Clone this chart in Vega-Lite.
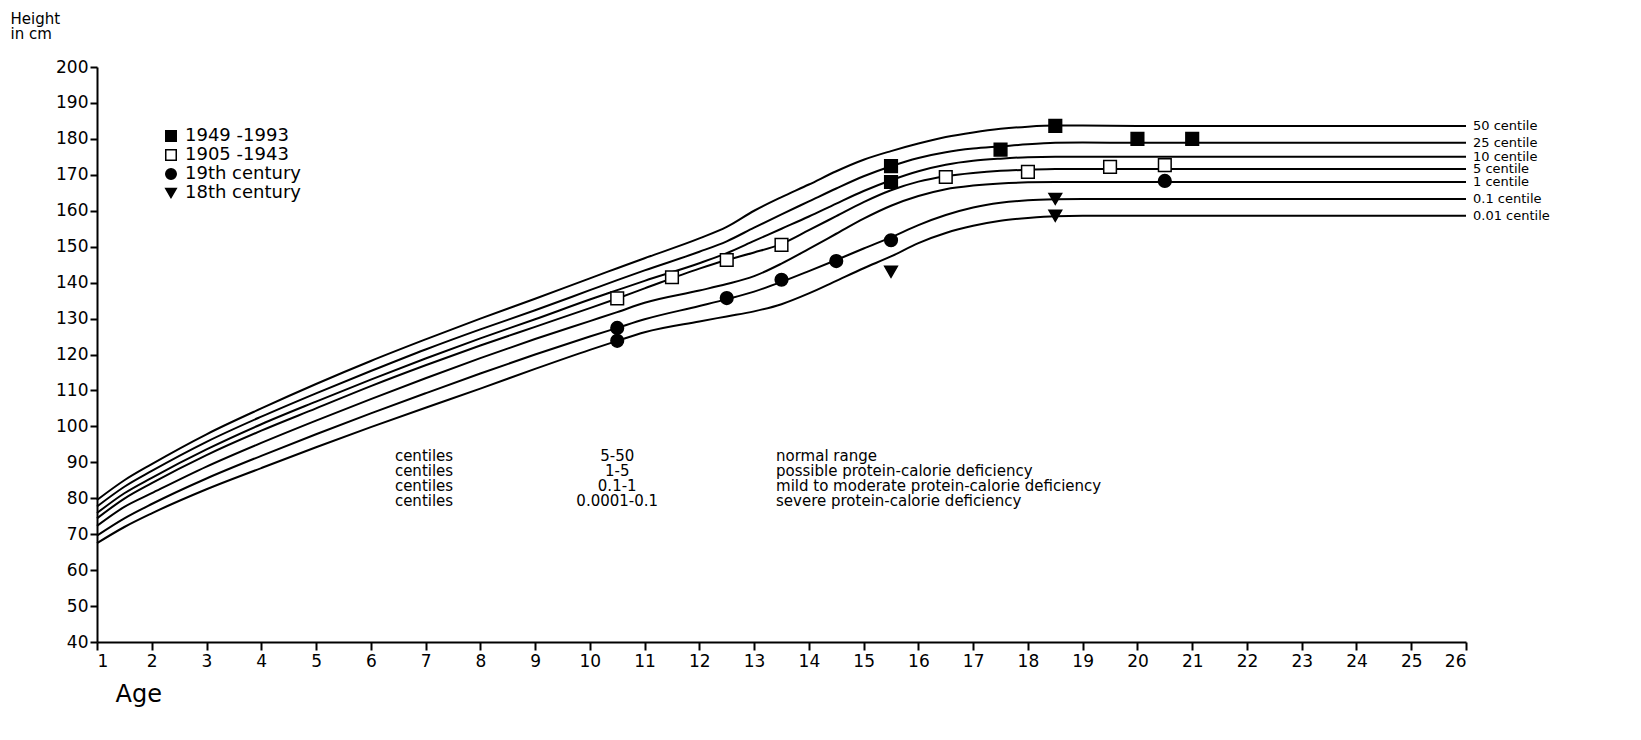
{
  "$schema": "https://vega.github.io/schema/vega-lite/v6.json",
  "width": 1369,
  "height": 575,
  "autosize": {"type": "none"},
  "padding": {"left": 97, "top": 67, "right": 175, "bottom": 98},
  "background": "white",
  "config": {
    "view": {"stroke": null},
    "font": "DejaVu Sans",
    "axis": {
      "domainColor": "black",
      "domainWidth": 2,
      "tickColor": "black",
      "tickWidth": 2,
      "tickSize": 8,
      "labelColor": "black",
      "labelFontSize": 17,
      "labelFont": "DejaVu Sans",
      "labelOverlap": false,
      "grid": false,
      "titleColor": "black",
      "titleFont": "DejaVu Sans",
      "titleFontWeight": "normal"
    },
    "legend": {
      "padding": 0,
      "labelFontSize": 18,
      "labelColor": "black",
      "labelFont": "DejaVu Sans",
      "symbolSize": 110,
      "rowPadding": 1,
      "labelOffset": 5
    }
  },
  "datasets": {
    "curves": [
      {"c": "50 centile", "a": 1, "h": 79.5}, {"c": "50 centile", "a": 1.5, "h": 85}, {"c": "50 centile", "a": 2, "h": 89.5}, {"c": "50 centile", "a": 3, "h": 97.8}, {"c": "50 centile", "a": 4, "h": 105}, {"c": "50 centile", "a": 5, "h": 111.8}, {"c": "50 centile", "a": 6, "h": 118.2}, {"c": "50 centile", "a": 7, "h": 124.2}, {"c": "50 centile", "a": 8, "h": 130}, {"c": "50 centile", "a": 9, "h": 135.5}, {"c": "50 centile", "a": 10, "h": 141.2}, {"c": "50 centile", "a": 10.5, "h": 144}, {"c": "50 centile", "a": 11, "h": 146.8}, {"c": "50 centile", "a": 12, "h": 152.3}, {"c": "50 centile", "a": 12.5, "h": 155.5}, {"c": "50 centile", "a": 13, "h": 160}, {"c": "50 centile", "a": 13.5, "h": 163.8}, {"c": "50 centile", "a": 14, "h": 167.3}, {"c": "50 centile", "a": 14.5, "h": 171}, {"c": "50 centile", "a": 15, "h": 174.2}, {"c": "50 centile", "a": 15.5, "h": 176.6}, {"c": "50 centile", "a": 16, "h": 178.7}, {"c": "50 centile", "a": 16.5, "h": 180.5}, {"c": "50 centile", "a": 17, "h": 181.8}, {"c": "50 centile", "a": 17.5, "h": 182.8}, {"c": "50 centile", "a": 18, "h": 183.4}, {"c": "50 centile", "a": 18.5, "h": 183.7}, {"c": "50 centile", "a": 19, "h": 183.7}, {"c": "50 centile", "a": 20, "h": 183.6}, {"c": "50 centile", "a": 26, "h": 183.6},
      {"c": "25 centile", "a": 1, "h": 77.7}, {"c": "25 centile", "a": 1.5, "h": 83.2}, {"c": "25 centile", "a": 2, "h": 87.6}, {"c": "25 centile", "a": 3, "h": 95.7}, {"c": "25 centile", "a": 4, "h": 102.7}, {"c": "25 centile", "a": 5, "h": 109.2}, {"c": "25 centile", "a": 6, "h": 115.4}, {"c": "25 centile", "a": 7, "h": 121.4}, {"c": "25 centile", "a": 8, "h": 127}, {"c": "25 centile", "a": 9, "h": 132.3}, {"c": "25 centile", "a": 10, "h": 137.9}, {"c": "25 centile", "a": 10.5, "h": 140.7}, {"c": "25 centile", "a": 11, "h": 143.4}, {"c": "25 centile", "a": 12, "h": 148.6}, {"c": "25 centile", "a": 12.5, "h": 151.5}, {"c": "25 centile", "a": 13, "h": 155.3}, {"c": "25 centile", "a": 13.5, "h": 159}, {"c": "25 centile", "a": 14, "h": 162.6}, {"c": "25 centile", "a": 14.5, "h": 166.2}, {"c": "25 centile", "a": 15, "h": 169.6}, {"c": "25 centile", "a": 15.5, "h": 172.4}, {"c": "25 centile", "a": 16, "h": 174.7}, {"c": "25 centile", "a": 16.5, "h": 176.3}, {"c": "25 centile", "a": 17, "h": 177.3}, {"c": "25 centile", "a": 17.5, "h": 177.9}, {"c": "25 centile", "a": 18, "h": 178.5}, {"c": "25 centile", "a": 18.5, "h": 178.9}, {"c": "25 centile", "a": 19, "h": 179}, {"c": "25 centile", "a": 20, "h": 178.9}, {"c": "25 centile", "a": 26, "h": 178.9},
      {"c": "10 centile", "a": 1, "h": 75.9}, {"c": "10 centile", "a": 1.5, "h": 81.4}, {"c": "10 centile", "a": 2, "h": 85.7}, {"c": "10 centile", "a": 3, "h": 93.6}, {"c": "10 centile", "a": 4, "h": 100.6}, {"c": "10 centile", "a": 5, "h": 106.9}, {"c": "10 centile", "a": 6, "h": 113}, {"c": "10 centile", "a": 7, "h": 118.9}, {"c": "10 centile", "a": 8, "h": 124.5}, {"c": "10 centile", "a": 9, "h": 129.8}, {"c": "10 centile", "a": 10, "h": 135.3}, {"c": "10 centile", "a": 10.5, "h": 137.9}, {"c": "10 centile", "a": 11, "h": 140.5}, {"c": "10 centile", "a": 12, "h": 145.4}, {"c": "10 centile", "a": 12.5, "h": 148.2}, {"c": "10 centile", "a": 13, "h": 151.6}, {"c": "10 centile", "a": 13.5, "h": 155}, {"c": "10 centile", "a": 14, "h": 158.4}, {"c": "10 centile", "a": 14.5, "h": 162}, {"c": "10 centile", "a": 15, "h": 165.5}, {"c": "10 centile", "a": 15.5, "h": 168.5}, {"c": "10 centile", "a": 16, "h": 171}, {"c": "10 centile", "a": 16.5, "h": 172.8}, {"c": "10 centile", "a": 17, "h": 173.9}, {"c": "10 centile", "a": 17.5, "h": 174.5}, {"c": "10 centile", "a": 18, "h": 174.9}, {"c": "10 centile", "a": 18.5, "h": 175}, {"c": "10 centile", "a": 19, "h": 175}, {"c": "10 centile", "a": 20, "h": 175}, {"c": "10 centile", "a": 26, "h": 175},
      {"c": "5 centile", "a": 1, "h": 74.4}, {"c": "5 centile", "a": 1.5, "h": 79.9}, {"c": "5 centile", "a": 2, "h": 84.2}, {"c": "5 centile", "a": 3, "h": 92}, {"c": "5 centile", "a": 4, "h": 98.8}, {"c": "5 centile", "a": 5, "h": 105}, {"c": "5 centile", "a": 6, "h": 111.2}, {"c": "5 centile", "a": 7, "h": 117}, {"c": "5 centile", "a": 8, "h": 122.5}, {"c": "5 centile", "a": 9, "h": 127.7}, {"c": "5 centile", "a": 10, "h": 132.9}, {"c": "5 centile", "a": 10.5, "h": 135.6}, {"c": "5 centile", "a": 11, "h": 138.4}, {"c": "5 centile", "a": 12, "h": 143.9}, {"c": "5 centile", "a": 12.5, "h": 146.3}, {"c": "5 centile", "a": 13, "h": 148.4}, {"c": "5 centile", "a": 13.5, "h": 150.8}, {"c": "5 centile", "a": 14, "h": 154.6}, {"c": "5 centile", "a": 14.5, "h": 158.5}, {"c": "5 centile", "a": 15, "h": 162.4}, {"c": "5 centile", "a": 15.5, "h": 165.7}, {"c": "5 centile", "a": 16, "h": 168.1}, {"c": "5 centile", "a": 16.5, "h": 169.6}, {"c": "5 centile", "a": 17, "h": 170.5}, {"c": "5 centile", "a": 17.5, "h": 171.1}, {"c": "5 centile", "a": 18, "h": 171.4}, {"c": "5 centile", "a": 18.5, "h": 171.6}, {"c": "5 centile", "a": 19, "h": 171.6}, {"c": "5 centile", "a": 20, "h": 171.6}, {"c": "5 centile", "a": 26, "h": 171.6},
      {"c": "1 centile", "a": 1, "h": 72.3}, {"c": "1 centile", "a": 1.5, "h": 77.6}, {"c": "1 centile", "a": 2, "h": 81.4}, {"c": "1 centile", "a": 3, "h": 88.8}, {"c": "1 centile", "a": 4, "h": 95.4}, {"c": "1 centile", "a": 5, "h": 101.6}, {"c": "1 centile", "a": 6, "h": 107.6}, {"c": "1 centile", "a": 7, "h": 113.4}, {"c": "1 centile", "a": 8, "h": 119}, {"c": "1 centile", "a": 9, "h": 124.3}, {"c": "1 centile", "a": 10, "h": 129.3}, {"c": "1 centile", "a": 10.5, "h": 131.8}, {"c": "1 centile", "a": 11, "h": 134.4}, {"c": "1 centile", "a": 12, "h": 137.8}, {"c": "1 centile", "a": 12.5, "h": 139.6}, {"c": "1 centile", "a": 13, "h": 141.8}, {"c": "1 centile", "a": 13.5, "h": 145.3}, {"c": "1 centile", "a": 14, "h": 149.4}, {"c": "1 centile", "a": 14.5, "h": 153.6}, {"c": "1 centile", "a": 15, "h": 157.8}, {"c": "1 centile", "a": 15.5, "h": 161.4}, {"c": "1 centile", "a": 16, "h": 164.1}, {"c": "1 centile", "a": 16.5, "h": 166}, {"c": "1 centile", "a": 17, "h": 167}, {"c": "1 centile", "a": 17.5, "h": 167.6}, {"c": "1 centile", "a": 18, "h": 167.9}, {"c": "1 centile", "a": 18.5, "h": 168}, {"c": "1 centile", "a": 19, "h": 168}, {"c": "1 centile", "a": 20, "h": 168}, {"c": "1 centile", "a": 26, "h": 168},
      {"c": "0.1 centile", "a": 1, "h": 69.6}, {"c": "0.1 centile", "a": 1.5, "h": 74.4}, {"c": "0.1 centile", "a": 2, "h": 78.4}, {"c": "0.1 centile", "a": 3, "h": 85.5}, {"c": "0.1 centile", "a": 4, "h": 91.8}, {"c": "0.1 centile", "a": 5, "h": 97.8}, {"c": "0.1 centile", "a": 6, "h": 103.6}, {"c": "0.1 centile", "a": 7, "h": 109.2}, {"c": "0.1 centile", "a": 8, "h": 114.7}, {"c": "0.1 centile", "a": 9, "h": 120}, {"c": "0.1 centile", "a": 10, "h": 125}, {"c": "0.1 centile", "a": 10.5, "h": 127.4}, {"c": "0.1 centile", "a": 11, "h": 129.8}, {"c": "0.1 centile", "a": 12, "h": 133.5}, {"c": "0.1 centile", "a": 12.5, "h": 135.4}, {"c": "0.1 centile", "a": 13, "h": 137.5}, {"c": "0.1 centile", "a": 13.5, "h": 140.2}, {"c": "0.1 centile", "a": 14, "h": 143.2}, {"c": "0.1 centile", "a": 14.5, "h": 146.3}, {"c": "0.1 centile", "a": 15, "h": 149.5}, {"c": "0.1 centile", "a": 15.5, "h": 152.6}, {"c": "0.1 centile", "a": 16, "h": 156}, {"c": "0.1 centile", "a": 16.5, "h": 158.8}, {"c": "0.1 centile", "a": 17, "h": 160.9}, {"c": "0.1 centile", "a": 17.5, "h": 162.2}, {"c": "0.1 centile", "a": 18, "h": 162.9}, {"c": "0.1 centile", "a": 18.5, "h": 163.2}, {"c": "0.1 centile", "a": 19, "h": 163.3}, {"c": "0.1 centile", "a": 20, "h": 163.3}, {"c": "0.1 centile", "a": 26, "h": 163.3},
      {"c": "0.01 centile", "a": 1, "h": 67.5}, {"c": "0.01 centile", "a": 1.5, "h": 72}, {"c": "0.01 centile", "a": 2, "h": 75.8}, {"c": "0.01 centile", "a": 3, "h": 82.5}, {"c": "0.01 centile", "a": 4, "h": 88.4}, {"c": "0.01 centile", "a": 5, "h": 94.2}, {"c": "0.01 centile", "a": 6, "h": 99.8}, {"c": "0.01 centile", "a": 7, "h": 105.2}, {"c": "0.01 centile", "a": 8, "h": 110.5}, {"c": "0.01 centile", "a": 9, "h": 116}, {"c": "0.01 centile", "a": 10, "h": 121.3}, {"c": "0.01 centile", "a": 10.5, "h": 123.8}, {"c": "0.01 centile", "a": 11, "h": 126.2}, {"c": "0.01 centile", "a": 12, "h": 129.2}, {"c": "0.01 centile", "a": 12.5, "h": 130.6}, {"c": "0.01 centile", "a": 13, "h": 132}, {"c": "0.01 centile", "a": 13.5, "h": 134}, {"c": "0.01 centile", "a": 14, "h": 137}, {"c": "0.01 centile", "a": 14.5, "h": 140.5}, {"c": "0.01 centile", "a": 15, "h": 144}, {"c": "0.01 centile", "a": 15.5, "h": 147.3}, {"c": "0.01 centile", "a": 16, "h": 151}, {"c": "0.01 centile", "a": 16.5, "h": 153.8}, {"c": "0.01 centile", "a": 17, "h": 155.8}, {"c": "0.01 centile", "a": 17.5, "h": 157.2}, {"c": "0.01 centile", "a": 18, "h": 158}, {"c": "0.01 centile", "a": 18.5, "h": 158.5}, {"c": "0.01 centile", "a": 19, "h": 158.6}, {"c": "0.01 centile", "a": 20, "h": 158.6}, {"c": "0.01 centile", "a": 26, "h": 158.6}
    ],
    "points": [
      {"s": "1949 -1993", "a": 15.5, "h": 172.4}, {"s": "1949 -1993", "a": 15.5, "h": 168}, {"s": "1949 -1993", "a": 17.5, "h": 177}, {"s": "1949 -1993", "a": 18.5, "h": 183.6}, {"s": "1949 -1993", "a": 20, "h": 180}, {"s": "1949 -1993", "a": 21, "h": 180},
      {"s": "1905 -1943", "a": 10.5, "h": 135.6}, {"s": "1905 -1943", "a": 11.5, "h": 141.5}, {"s": "1905 -1943", "a": 12.5, "h": 146.3}, {"s": "1905 -1943", "a": 13.5, "h": 150.5}, {"s": "1905 -1943", "a": 16.5, "h": 169.4}, {"s": "1905 -1943", "a": 18, "h": 170.8}, {"s": "1905 -1943", "a": 19.5, "h": 172.2}, {"s": "1905 -1943", "a": 20.5, "h": 172.7},
      {"s": "19th century", "a": 10.5, "h": 127.4}, {"s": "19th century", "a": 10.5, "h": 123.8}, {"s": "19th century", "a": 12.5, "h": 135.7}, {"s": "19th century", "a": 13.5, "h": 140.8}, {"s": "19th century", "a": 14.5, "h": 146}, {"s": "19th century", "a": 15.5, "h": 151.8}, {"s": "19th century", "a": 20.5, "h": 168.3},
      {"s": "18th century", "a": 15.5, "h": 143}, {"s": "18th century", "a": 18.5, "h": 163.3}, {"s": "18th century", "a": 18.5, "h": 158.6}
    ],
    "notes": [
      {"label": "centiles", "range": "5-50", "meaning": "normal range", "h": 91.8},
      {"label": "centiles", "range": "1-5", "meaning": "possible protein-calorie deficiency", "h": 87.6},
      {"label": "centiles", "range": "0.1-1", "meaning": "mild to moderate protein-calorie deficiency", "h": 83.4},
      {"label": "centiles", "range": "0.0001-0.1", "meaning": "severe protein-calorie deficiency", "h": 79.2}
    ]
  },
  "layer": [
    {
      "data": {"name": "curves"},
      "mark": {"type": "line", "color": "black", "strokeWidth": 2, "interpolate": "monotone"},
      "encoding": {
        "x": {
          "field": "a", "type": "quantitative",
          "scale": {"domain": [1, 26], "nice": false, "zero": false},
          "axis": {
            "values": [1,2,3,4,5,6,7,8,9,10,11,12,13,14,15,16,17,18,19,20,21,22,23,24,25,26],
            "tickCount": 26,
            "format": "d", "labelPadding": 3,
            "title": "Age", "titleFontSize": 24, "titleAlign": "left", "titleBaseline": "top",
            "titleX": 18, "titleY": 40
          }
        },
        "y": {
          "field": "h", "type": "quantitative",
          "scale": {"domain": [40, 200], "nice": false, "zero": false},
          "axis": {
            "values": [40,50,60,70,80,90,100,110,120,130,140,150,160,170,180,190,200],
            "tickCount": 17,
            "format": "d", "tickSize": 7, "labelPadding": 2,
            "title": ["Height", "in cm"], "titleFontSize": 15, "titleAngle": 0,
            "titleAlign": "left", "titleBaseline": "top", "titleX": -87, "titleY": -56, "titleLineHeight": 15
          }
        },
        "detail": {"field": "c"}
      }
    },
    {
      "data": {"name": "curves"},
      "transform": [{"filter": "datum.a == 26"}],
      "mark": {"type": "text", "align": "left", "baseline": "middle", "dx": 7, "fontSize": 13, "color": "black"},
      "encoding": {
        "x": {"field": "a", "type": "quantitative"},
        "y": {"field": "h", "type": "quantitative"},
        "text": {"field": "c"}
      }
    },
    {
      "data": {"name": "points"},
      "mark": {"type": "point", "size": 160, "stroke": "black", "strokeWidth": 1.5, "opacity": 1},
      "encoding": {
        "x": {"field": "a", "type": "quantitative"},
        "y": {"field": "h", "type": "quantitative"},
        "shape": {
          "field": "s", "type": "nominal",
          "scale": {"domain": ["1949 -1993", "1905 -1943", "19th century", "18th century"], "range": ["square", "square", "circle", "triangle-down"]},
          "legend": {"title": null, "orient": "none", "legendX": 65, "legendY": 60,
            "encode": {"symbols": {
              "stroke": {"value": "black"},
              "strokeWidth": {"value": 1.5},
              "fill": {"value": {"expr": "datum.value === '1905 -1943' ? 'white' : 'black'"}},
              "opacity": {"value": 1}
            }}}
        },
        "fill": {
          "field": "s", "type": "nominal",
          "scale": {"domain": ["1949 -1993", "1905 -1943", "19th century", "18th century"], "range": ["black", "white", "black", "black"]},
          "legend": null
        }
      }
    },
    {
      "data": {"name": "notes"},
      "mark": {"type": "text", "align": "left", "baseline": "middle", "fontSize": 15, "color": "black"},
      "encoding": {
        "x": {"datum": 6.44},
        "y": {"field": "h", "type": "quantitative"},
        "text": {"field": "label"}
      }
    },
    {
      "data": {"name": "notes"},
      "mark": {"type": "text", "align": "center", "baseline": "middle", "fontSize": 15, "color": "black"},
      "encoding": {
        "x": {"datum": 10.5},
        "y": {"field": "h", "type": "quantitative"},
        "text": {"field": "range"}
      }
    },
    {
      "data": {"name": "notes"},
      "mark": {"type": "text", "align": "left", "baseline": "middle", "fontSize": 15, "color": "black"},
      "encoding": {
        "x": {"datum": 13.4},
        "y": {"field": "h", "type": "quantitative"},
        "text": {"field": "meaning"}
      }
    }
  ]
}
